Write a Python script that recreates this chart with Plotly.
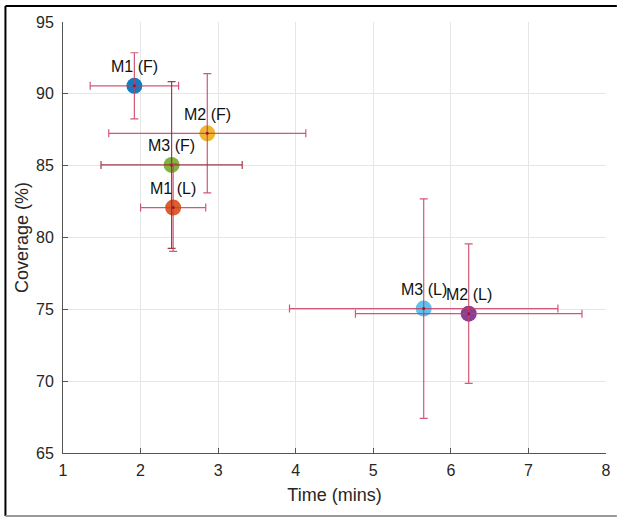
import plotly.graph_objects as go

labels = ["M1 (F)", "M2 (F)", "M3 (F)", "M1 (L)", "M3 (L)", "M2 (L)"]
time_mean = [1.92, 2.86, 2.40, 2.42, 5.65, 6.23]
time_err = [0.57, 1.27, 0.91, 0.42, 1.73, 1.46]
cov_mean = [90.56, 87.25, 85.05, 82.08, 75.05, 74.70]
cov_err = [2.30, 4.15, 5.80, 3.05, 7.64, 4.86]
colors = ["#0072BD", "#EDB120", "#77AC30", "#D95319", "#4DBEEE", "#7E2F8E"]
bar_colors = ["rgba(200,60,95,0.85)", "rgba(200,60,95,0.85)", "rgba(150,40,55,0.9)",
              "rgba(200,60,95,0.85)", "rgba(200,60,95,0.85)", "rgba(200,60,95,0.85)"]

xticks = [1, 2, 3, 4, 5, 6, 7, 8]
yticks = [65, 70, 75, 80, 85, 90, 95]

FONT = "Liberation Sans, Arial, Helvetica, sans-serif"

fig = go.Figure()

for i in range(len(labels)):
    fig.add_trace(go.Scatter(
        x=[time_mean[i]], y=[cov_mean[i]], mode="markers",
        marker=dict(size=16, color=colors[i], opacity=0.92, line=dict(width=0)),
        showlegend=False, hoverinfo="skip"))

for i in range(len(labels)):
    fig.add_trace(go.Scatter(
        x=[time_mean[i]], y=[cov_mean[i]], mode="markers",
        marker=dict(size=3, color="#A01030"),
        error_x=dict(type="data", array=[time_err[i]], color=bar_colors[i], thickness=1.2, width=4),
        error_y=dict(type="data", array=[cov_err[i]], color=bar_colors[i], thickness=1.2, width=4),
        showlegend=False, hoverinfo="skip"))

for i in range(len(labels)):
    fig.add_annotation(x=time_mean[i], y=cov_mean[i], text=labels[i], showarrow=False,
                       yshift=19, font=dict(family=FONT, size=16, color="#111111"))

# figure border lines
fig.add_shape(type="line", xref="paper", yref="paper", x0=-0.106, x1=1.02, y0=1.037, y1=1.037,
              line=dict(color="black", width=2))
fig.add_shape(type="line", xref="paper", yref="paper", x0=-0.106, x1=-0.106, y0=1.037, y1=-0.146,
              line=dict(color="black", width=2))
fig.add_shape(type="line", xref="paper", yref="paper", x0=-0.106, x1=1.02, y0=-0.146, y1=-0.146,
              line=dict(color="#999999", width=2))

axis_common = dict(
    showgrid=True, gridcolor="#E6E6E6", gridwidth=1,
    showline=True, linecolor="#555555", linewidth=1,
    ticks="inside", ticklen=5, tickcolor="#555555",
    tickfont=dict(family=FONT, size=16, color="#262626"),
    zeroline=False,
)

fig.update_layout(
    width=621, height=517,
    margin=dict(l=63, r=10, t=22, b=64),
    paper_bgcolor="white", plot_bgcolor="white",
    xaxis=dict(range=[1, 8], tickvals=xticks, ticklabelstandoff=3,
               title=dict(text="Time (mins)", font=dict(family=FONT, size=18, color="#262626"), standoff=10),
               **axis_common),
    yaxis=dict(range=[65, 95], tickvals=yticks, ticklabelstandoff=5,
               title=dict(text="Coverage (%)", font=dict(family=FONT, size=18, color="#262626"), standoff=2),
               **axis_common),
)

fig.write_html("out.html", config={"displayModeBar": False},
               post_script="document.body.style.margin='0';")
